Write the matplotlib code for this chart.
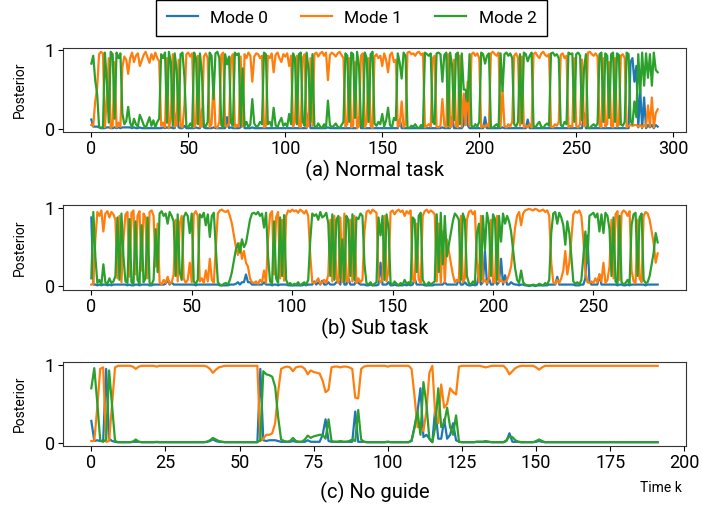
import matplotlib
matplotlib.use('Agg')
import matplotlib.pyplot as plt
from matplotlib.ticker import FixedLocator
import numpy as np

plt.rcParams['font.family'] = ['Roboto', 'DejaVu Sans']

series_names = ["Mode 0", "Mode 1", "Mode 2"]
panel_labels = ["(a) Normal task", "(b) Sub task", "(c) No guide"]
xticks_a = [0, 50, 100, 150, 200, 250, 300]
xticks_b = [0, 50, 100, 150, 200, 250]
xticks_c = [0, 25, 50, 75, 100, 125, 150, 175, 200]
yticks = [0, 1]

# ---------------- (a) Normal task ----------------
a_mode0 = [
    .12, .03, .03, .03, .02, .01, .01, .01, .02, .02,
    .01, .01, .02, .01, .02, .01, .02, .02, .02, .02,
    .02, .01, .02, .01, .01, .02, .01, .01, .01, .01,
    .01, .01, .01, .01, .01, .01, .01, .02, .01, .02,
    .01, .02, .01, .01, .20, .02, .01, .01, .04, .01,
    .01, .01, .01, .01, .02, .01, .01, .25, .02, .01,
    .01, .01, .01, .02, .01, .01, .01, .01, .01, .01,
    .15, .01, .02, .01, .01, .01, .01, .02, .20, .01,
    .01, .01, .01, .02, .01, .01, .01, .01, .01, .01,
    .01, .01, .01, .01, .01, .01, .01, .01, .01, .01,
    .01, .01, .01, .01, .01, .01, .01, .01, .01, .01,
    .01, .01, .20, .01, .01, .01, .01, .01, .01, .01,
    .01, .01, .02, .01, .01, .01, .01, .01, .01, .01,
    .01, .01, .01, .01, .01, .01, .01, .01, .15, .01,
    .01, .01, .01, .01, .01, .01, .01, .01, .01, .01,
    .01, .01, .01, .01, .01, .01, .01, .01, .01, .12,
    .01, .01, .01, .01, .01, .01, .01, .01, .01, .01,
    .01, .01, .01, .01, .01, .01, .01, .01, .01, .01,
    .01, .02, .01, .01, .01, .01, .15, .01, .01, .01,
    .01, .01, .05, .45, .05, .01, .01, .01, .01, .01,
    .01, .01, .01, .15, .01, .01, .01, .01, .01, .01,
    .01, .01, .02, .01, .01, .01, .01, .01, .01, .01,
    .01, .01, .01, .01, .01, .12, .01, .01, .01, .01,
    .01, .01, .01, .01, .01, .01, .01, .01, .01, .01,
    .01, .01, .01, .01, .01, .01, .01, .01, .01, .01,
    .01, .01, .01, .01, .20, .01, .01, .01, .01, .01,
    .01, .01, .01, .01, .01, .01, .01, .01, .01, .01,
    .01, .01, .01, .01, .01, .01, .01, .01, .85, .90,
    .60, .80, .02, .50, .01, .40, .01, .05, .02, .05,
    .01, .05, .03,
]
a_mode1 = [
    .05, .04, .35, .52, .95, .98, .96, .02, .38, .90,
    .01, .04, .85, .02, .08, .03, .78, .92, .88, .70,
    .90, .97, .85, .93, .96, .80, .87, .94, .98, .91,
    .84, .95, .88, .97, .90, .86, .04, .08, .02, .90,
    .01, .13, .95, .03, .05, .88, .04, .02, .30, .95,
    .97, .92, .96, .02, .08, .93, .03, .03, .92, .96,
    .90, .02, .06, .60, .03, .01, .09, .94, .97, .04,
    .03, .07, .90, .95, .02, .05, .03, .92, .03, .95,
    .90, .97, .93, .60, .92, .96, .95, .90, .93, .02,
    .04, .93, .90, .96, .72, .94, .97, .90, .85, .95,
    .92, .96, .80, .93, .03, .09, .93, .04, .02, .90,
    .95, .02, .04, .90, .04, .95, .97, .92, .96, .98,
    .93, .97, .62, .94, .97, .95, .92, .96, .98, .94,
    .90, .03, .06, .90, .02, .04, .85, .01, .04, .93,
    .96, .02, .09, .90, .04, .01, .92, .95, .90, .93,
    .80, .96, .88, .72, .94, .97, .85, .88, .03, .04,
    .35, .02, .06, .97, .98, .95, .96, .93, .97, .98,
    .94, .96, .02, .04, .06, .03, .90, .93, .03, .02,
    .04, .38, .05, .02, .95, .02, .04, .88, .04, .02,
    .93, .03, .45, .05, .60, .04, .95, .97, .93, .96,
    .90, .02, .04, .02, .06, .03, .96, .98, .95, .93,
    .97, .03, .50, .04, .02, .06, .03, .09, .93, .96,
    .90, .04, .92, .02, .04, .02, .06, .02, .95, .97,
    .93, .90, .96, .98, .94, .92, .95, .03, .02, .06,
    .04, .09, .94, .96, .90, .93, .02, .04, .03, .90,
    .04, .02, .06, .88, .04, .04, .97, .98, .95, .93,
    .96, .92, .04, .02, .90, .03, .06, .85, .04, .02,
    .90, .03, .05, .93, .95, .90, .02, .04, .05, .04,
    .05, .05, .03, .05, .02, .05, .03, .30, .03, .40,
    .02, .20, .25,
]
a_mode2 = [
    .83, .93, .62, .45, .03, .01, .03, .97, .60, .08,
    .98, .95, .13, .97, .90, .96, .20, .06, .10, .28,
    .08, .02, .13, .06, .03, .18, .12, .05, .01, .08,
    .15, .04, .11, .02, .09, .13, .95, .90, .97, .08,
    .98, .85, .04, .96, .75, .10, .95, .97, .66, .04,
    .02, .07, .03, .97, .90, .06, .96, .72, .06, .03,
    .09, .97, .93, .38, .96, .98, .90, .05, .02, .95,
    .82, .92, .08, .04, .97, .94, .96, .06, .77, .04,
    .09, .02, .06, .38, .07, .03, .04, .09, .06, .97,
    .95, .06, .09, .03, .27, .05, .02, .09, .14, .04,
    .07, .03, .19, .06, .96, .90, .06, .95, .97, .09,
    .04, .97, .76, .09, .95, .04, .02, .07, .03, .01,
    .06, .02, .36, .05, .02, .04, .07, .03, .01, .05,
    .09, .96, .93, .09, .97, .95, .14, .98, .81, .06,
    .03, .97, .90, .09, .95, .98, .07, .04, .09, .06,
    .19, .03, .11, .27, .05, .02, .14, .11, .96, .84,
    .64, .97, .93, .02, .01, .04, .03, .06, .02, .01,
    .05, .03, .97, .95, .93, .96, .09, .06, .96, .97,
    .95, .60, .94, .97, .04, .97, .81, .11, .95, .97,
    .06, .96, .50, .50, .35, .95, .04, .02, .06, .03,
    .09, .97, .95, .83, .93, .96, .03, .01, .04, .06,
    .02, .96, .48, .95, .97, .93, .96, .90, .06, .03,
    .09, .95, .07, .97, .95, .86, .93, .97, .04, .02,
    .06, .09, .03, .01, .05, .07, .04, .96, .97, .93,
    .95, .90, .05, .03, .09, .06, .97, .95, .96, .09,
    .95, .97, .93, .11, .76, .95, .02, .01, .04, .06,
    .03, .07, .95, .97, .09, .96, .93, .14, .95, .97,
    .09, .96, .94, .06, .04, .09, .97, .95, .10, .06,
    .35, .15, .95, .45, .97, .55, .96, .65, .95, .55,
    .97, .75, .72,
]

# ---------------- (b) Sub task ----------------
b_mode0 = [
    .88, .02, .02, .01, .02, .01, .02, .02, .01, .02,
    .01, .02, .02, .02, .02, .02, .02, .02, .01, .02,
    .01, .01, .02, .02, .01, .02, .02, .02, .02, .01,
    .01, .02, .02, .02, .02, .02, .02, .03, .08, .02,
    .05, .02, .02, .02, .02, .02, .02, .02, .02, .02,
    .02, .02, .01, .02, .02, .02, .02, .02, .02, .02,
    .02, .02, .02, .02, .01, .01, .01, .01, .01, .02,
    .02, .02, .03, .05, .02, .05, .05, .15, .05, .05,
    .02, .02, .02, .02, .02, .02, .05, .02, .02, .02,
    .01, .02, .02, .01, .02, .02, .02, .02, .01, .01,
    .01, .01, .01, .01, .01, .01, .02, .01, .02, .02,
    .02, .06, .02, .05, .02, .07, .02, .02, .05, .02,
    .02, .02, .05, .06, .02, .35, .02, .02, .10, .02,
    .02, .02, .08, .04, .02, .02, .02, .01, .01, .02,
    .01, .01, .01, .02, .30, .02, .02, .02, .05, .01,
    .01, .02, .01, .01, .01, .01, .02, .01, .02, .01,
    .02, .10, .02, .02, .02, .02, .01, .01, .01, .01,
    .01, .02, .02, .02, .02, .02, .05, .02, .02, .02,
    .02, .02, .02, .09, .02, .02, .05, .02, .01, .01,
    .02, .01, .02, .15, .02, .05, .45, .02, .10, .02,
    .02, .10, .02, .05, .35, .02, .14, .02, .02, .05,
    .03, .02, .02, .01, .02, .02, .01, .01, .00, .01,
    .01, .00, .01, .01, .01, .01, .01, .01, .02, .02,
    .02, .02, .12, .02, .02, .02, .02, .02, .02, .02,
    .02, .01, .01, .01, .02, .02, .10, .65, .06, .02,
    .02, .02, .02, .15, .02, .02, .02, .02, .02, .02,
    .02, .02, .01, .02, .02, .01, .01, .02, .01, .02,
    .02, .02, .02, .02, .02, .02, .01, .02, .02, .02,
    .02, .02, .02,
]
b_mode1 = [
    .02, .03, .60, .95, .90, .97, .70, .93, .96, .88,
    .95, .92, .85, .10, .90, .05, .60, .92, .95, .12,
    .94, .97, .15, .90, .96, .20, .93, .88, .10, .95,
    .97, .90, .25, .80, .05, .02, .08, .04, .12, .03,
    .05, .15, .85, .06, .80, .90, .10, .04, .08, .30,
    .05, .92, .96, .90, .06, .10, .04, .20, .06, .35,
    .08, .04, .50, .93, .97, .98, .96, .95, .97, .90,
    .80, .65, .50, .40, .55, .35, .45, .30, .25, .10,
    .05, .04, .06, .03, .08, .05, .20, .04, .60, .92,
    .96, .15, .88, .95, .10, .85, .07, .90, .97, .95,
    .98, .96, .97, .94, .98, .96, .93, .97, .90, .40,
    .05, .04, .06, .10, .03, .05, .08, .04, .15, .85,
    .06, .90, .10, .04, .88, .05, .93, .08, .05, .85,
    .06, .90, .04, .10, .05, .08, .70, .95, .97, .93,
    .98, .96, .94, .10, .05, .08, .90, .06, .20, .95,
    .97, .92, .96, .98, .95, .97, .90, .96, .93, .97,
    .10, .05, .80, .08, .04, .90, .96, .98, .94, .97,
    .95, .92, .06, .80, .04, .70, .05, .60, .45, .30,
    .15, .05, .08, .06, .90, .05, .10, .85, .95, .97,
    .92, .96, .30, .05, .90, .05, .08, .04, .10, .85,
    .06, .04, .90, .05, .08, .05, .06, .08, .15, .25,
    .50, .75, .90, .95, .78, .93, .97, .98, .99, .98,
    .97, .99, .98, .96, .97, .98, .95, .97, .90, .30,
    .05, .03, .08, .04, .10, .20, .45, .15, .30, .60,
    .92, .96, .94, .97, .90, .60, .20, .05, .04, .06,
    .04, .10, .05, .15, .06, .30, .04, .08, .25, .85,
    .10, .92, .96, .08, .93, .97, .95, .90, .96, .20,
    .06, .04, .85, .10, .05, .90, .95, .93, .85, .70,
    .55, .30, .42,
]
b_mode2 = [
    .10, .95, .38, .04, .08, .02, .28, .05, .03, .10,
    .04, .06, .13, .88, .08, .93, .38, .06, .04, .86,
    .05, .02, .83, .08, .03, .78, .05, .10, .88, .04,
    .02, .08, .73, .18, .93, .96, .90, .93, .80, .95,
    .90, .83, .13, .92, .18, .08, .88, .94, .90, .68,
    .93, .06, .03, .08, .92, .88, .94, .78, .92, .63,
    .90, .94, .48, .05, .02, .01, .03, .04, .02, .08,
    .18, .33, .47, .55, .43, .60, .50, .55, .70, .85,
    .93, .94, .92, .95, .90, .93, .75, .94, .38, .06,
    .03, .83, .10, .04, .88, .13, .91, .08, .02, .04,
    .01, .03, .02, .05, .01, .03, .05, .02, .08, .58,
    .93, .90, .92, .85, .95, .88, .90, .94, .80, .13,
    .92, .08, .85, .90, .10, .60, .05, .90, .85, .13,
    .92, .08, .88, .86, .93, .90, .28, .04, .02, .05,
    .01, .03, .05, .88, .65, .90, .08, .92, .75, .04,
    .02, .06, .03, .01, .04, .02, .08, .03, .05, .02,
    .88, .85, .18, .90, .94, .08, .03, .01, .05, .02,
    .04, .06, .92, .18, .94, .28, .90, .38, .53, .68,
    .83, .93, .90, .85, .08, .93, .85, .13, .04, .02,
    .06, .03, .68, .80, .08, .90, .47, .94, .80, .13,
    .92, .86, .08, .90, .57, .93, .80, .90, .83, .70,
    .47, .23, .08, .04, .20, .05, .02, .01, .01, .01,
    .02, .01, .01, .03, .02, .01, .04, .02, .08, .68,
    .93, .95, .80, .94, .88, .78, .53, .83, .68, .38,
    .06, .03, .05, .02, .08, .38, .70, .30, .90, .92,
    .94, .88, .93, .70, .92, .68, .94, .90, .73, .13,
    .88, .06, .03, .90, .05, .02, .04, .08, .03, .78,
    .92, .94, .13, .88, .93, .08, .04, .05, .13, .28,
    .43, .68, .56,
]

# ---------------- (c) No guide ----------------
c_mode0 = [
    .28, .02, .03, .02, .02, .95, .05, .02, .01, .005,
    .005, .005, .005, .005, .01, .01, .01, .005, .005, .005,
    .005, .005, .005, .005, .005, .005, .005, .005, .005, .005,
    .005, .005, .005, .005, .005, .005, .005, .005, .005, .01,
    .02, .04, .02, .01, .01, .005, .005, .005, .005, .005,
    .005, .005, .005, .005, .005, .005, .005, .95, .03, .02,
    .03, .03, .03, .02, .01, .01, .01, .01, .02, .01,
    .01, .01, .01, .03, .01, .01, .01, .01, .10, .30,
    .02, .01, .01, .01, .01, .01, .01, .01, .01, .40,
    .01, .01, .01, .005, .005, .005, .005, .005, .005, .005,
    .01, .005, .005, .005, .005, .005, .005, .005, .02, .20,
    .40, .70, .07, .10, .05, .005, .45, .05, .05, .30,
    .05, .10, .25, .03, .01, .005, .005, .005, .005, .005,
    .01, .01, .01, .01, .01, .005, .005, .005, .005, .005,
    .02, .12, .01, .01, .01, .005, .005, .005, .005, .005,
    .01, .02, .01, .005, .005, .005, .005, .005, .005, .005,
    .005, .005, .005, .005, .005, .005, .005, .005, .005, .005,
    .005, .005, .005, .005, .005, .005, .005, .005, .005, .005,
    .005, .005, .005, .005, .005, .005, .005, .005, .005, .005,
    .005, .005,
]
c_mode1 = [
    .02, .02, .45, .95, .97, .01, .02, .50, .97, .99,
    .99, .99, .99, .99, .98, .95, .98, .99, .99, .99,
    .99, .99, .98, .99, .99, .99, .99, .99, .99, .99,
    .99, .99, .99, .99, .99, .99, .99, .99, .99, .98,
    .95, .90, .94, .97, .98, .99, .99, .99, .99, .99,
    .99, .99, .99, .99, .99, .99, .99, .02, .05, .10,
    .10, .12, .25, .65, .95, .97, .98, .97, .92, .97,
    .98, .98, .95, .88, .93, .91, .90, .89, .80, .65,
    .68, .97, .98, .98, .97, .98, .98, .97, .95, .58,
    .57, .95, .98, .99, .99, .99, .99, .99, .99, .99,
    .98, .99, .99, .99, .99, .99, .99, .99, .95, .60,
    .20, .20, .15, .40, .90, .99, .35, .25, .75, .45,
    .50, .70, .65, .62, .98, .99, .99, .99, .99, .99,
    .99, .99, .98, .97, .98, .99, .99, .99, .99, .99,
    .95, .88, .92, .96, .98, .99, .99, .99, .99, .99,
    .97, .94, .97, .99, .99, .99, .99, .99, .99, .99,
    .99, .99, .99, .99, .99, .99, .99, .99, .99, .99,
    .99, .99, .99, .99, .99, .99, .99, .99, .99, .99,
    .99, .99, .99, .99, .99, .99, .99, .99, .99, .99,
    .99, .99,
]
c_mode2 = [
    .70, .96, .52, .03, .01, .04, .93, .48, .02, .005,
    .005, .005, .005, .005, .01, .04, .01, .005, .005, .005,
    .005, .005, .01, .005, .005, .005, .005, .005, .005, .005,
    .005, .005, .005, .005, .005, .005, .005, .005, .005, .01,
    .03, .06, .04, .02, .01, .005, .005, .005, .005, .005,
    .005, .005, .005, .005, .005, .005, .005, .03, .92, .88,
    .87, .85, .72, .33, .04, .02, .01, .02, .06, .02,
    .01, .01, .04, .09, .06, .08, .09, .10, .10, .05,
    .30, .02, .01, .01, .02, .01, .01, .02, .04, .02,
    .42, .04, .01, .005, .005, .005, .005, .005, .005, .005,
    .01, .005, .005, .005, .005, .005, .005, .005, .03, .20,
    .40, .10, .78, .50, .05, .005, .20, .70, .20, .25,
    .45, .20, .10, .35, .01, .005, .005, .005, .005, .005,
    .01, .01, .01, .02, .01, .005, .005, .005, .005, .005,
    .03, .08, .07, .03, .01, .005, .005, .005, .005, .005,
    .02, .04, .02, .005, .005, .005, .005, .005, .005, .005,
    .005, .005, .005, .005, .005, .005, .005, .005, .005, .005,
    .005, .005, .005, .005, .005, .005, .005, .005, .005, .005,
    .005, .005, .005, .005, .005, .005, .005, .005, .005, .005,
    .005, .005,
]

colors = ['#1f77b4', '#ff7f0e', '#2ca02c']

W, H = 702, 511
fig = plt.figure(figsize=(W / 100, H / 100), dpi=100)

# pixel boxes: (left, top, right, bottom)
boxes = [(63, 48, 686, 132), (63, 205, 686, 290), (63, 362, 686, 446)]
label_pads = [1, 1, 7]
panels = [
    ([a_mode0, a_mode1, a_mode2], xticks_a),
    ([b_mode0, b_mode1, b_mode2], xticks_b),
    ([c_mode0, c_mode1, c_mode2], xticks_c),
]

handles = None
for (l, t, r, b), (series, xt), lab, lp in zip(boxes, panels, panel_labels, label_pads):
    ax = fig.add_axes([l / W, 1 - b / H, (r - l) / W, (b - t) / H])
    hs = []
    for s, c, name in zip(series, colors, series_names):
        h, = ax.plot(np.arange(len(s)), s, color=c, lw=1.6, label=name)
        hs.append(h)
    handles = hs
    ax.xaxis.set_major_locator(FixedLocator(xt))
    ax.set_yticks(yticks)
    ax.tick_params(labelsize=13, pad=2.5)
    ax.set_ylabel("Posterior", fontsize=10, labelpad=13)
    ax.set_xlabel(lab, fontsize=14.5, labelpad=lp)
    for sp in ax.spines.values():
        sp.set_color('#333333')

fig.legend(handles, series_names, loc='center', bbox_to_anchor=(351.5 / W, 1 - 18 / H),
           ncol=3, fontsize=12.5, frameon=True, fancybox=False, edgecolor='black',
           framealpha=1, handlelength=1.8, handletextpad=0.7, columnspacing=1.9,
           borderpad=0.6)

fig.text(682 / W, 1 - 488 / H, "Time k", fontsize=10, ha='right', va='center')

fig.savefig("out.png", dpi=100)
